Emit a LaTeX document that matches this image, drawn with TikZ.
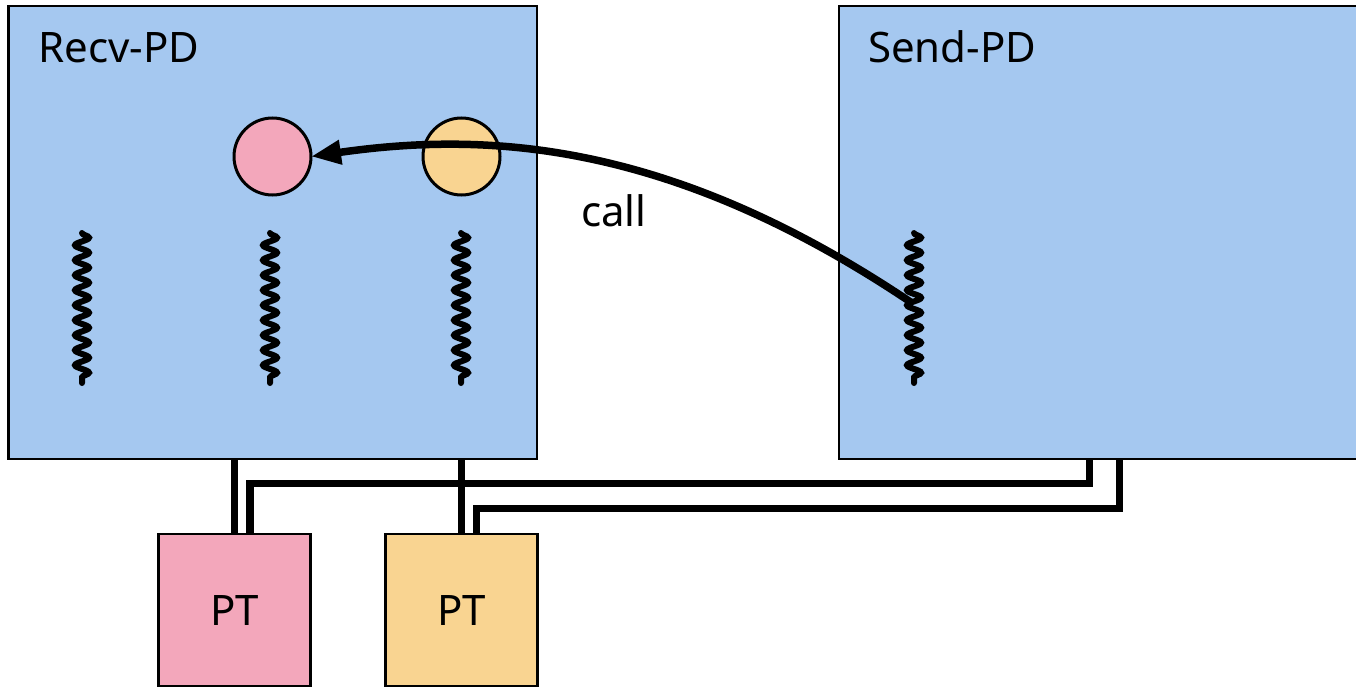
\documentclass[tikz,border=0pt]{standalone}
\usepackage{fontspec}
\setmainfont{Noto Sans}
\usetikzlibrary{arrows.meta,decorations.pathmorphing}
\definecolor{pdblue}{RGB}{165,200,240}
\definecolor{ptpink}{RGB}{243,167,187}
\definecolor{ptorange}{RGB}{249,212,145}
\begin{document}
\begin{tikzpicture}[x=1pt,y=-1pt,
  pdbox/.style={draw=black,line width=2.5pt,fill=pdblue,outer sep=0pt,inner sep=0pt},
  ptbox/.style={draw=black,line width=2.5pt,outer sep=0pt,inner sep=0pt,minimum width=152pt,minimum height=152pt,font=\fontsize{42}{50}\selectfont},
  slot/.style={circle,draw=black,line width=3pt,minimum size=77pt,inner sep=0pt,outer sep=0pt},
  lbl/.style={inner sep=0pt,anchor=base west,font=\fontsize{42}{50}\selectfont},
  wire/.style={line width=7.5pt,draw=black,line join=miter},
  squig/.style={line width=6pt,line cap=round,decorate,decoration={snake,segment length=15pt,amplitude=7pt}},
  callarrow/.style={line width=7.5pt,-{Triangle[length=30pt,width=23pt]}}]
\useasboundingbox (0,0) rectangle (1356,687);
% protection domains
\node[pdbox,minimum width=528.5pt,minimum height=453pt] (recv) at (272.75,232.5) {};
\node[pdbox,minimum width=531pt,minimum height=453pt] (send) at (1104.5,232.5) {};
\node[lbl] (recvlbl) at (38,63) {Recv-PD};
\node[lbl] (sendlbl) at (868,63) {Send-PD};
% portals
\node[slot,fill=ptpink] (pinkc) at (272.5,156.5) {};
\node[slot,fill=ptorange] (orangec) at (461.5,156.5) {};
% threads
\draw[squig] (82,233) -- (82,383);
\draw[squig] (270,233) -- (270,383);
\draw[squig] (461,233) -- (461,383);
\draw[squig] (914,233) -- (914,383);
\coordinate (callsrc) at (912,303);
% call arrow
\draw[callarrow] (callsrc) .. controls (672,141.5) and (489,131) .. (pinkc.east);
\node[lbl] (calllbl) at (581,226) {call};
% portal tables
\node[ptbox,fill=ptpink] (ptA) at (234.5,610) {PT};
\node[ptbox,fill=ptorange] (ptB) at (461.5,610) {PT};
% wires
\draw[wire] (ptA.north) -- (ptA.north |- recv.south);
\draw[wire] ([xshift=15.5pt]ptA.north) -- ++(0,-50.5) -| ([xshift=250.5pt]send.south west);
\draw[wire] (ptB.north) -- (ptB.north |- recv.south);
\draw[wire] ([xshift=15pt]ptB.north) -- ++(0,-25.5) -| ([xshift=280.5pt]send.south west);
\end{tikzpicture}
\end{document}
